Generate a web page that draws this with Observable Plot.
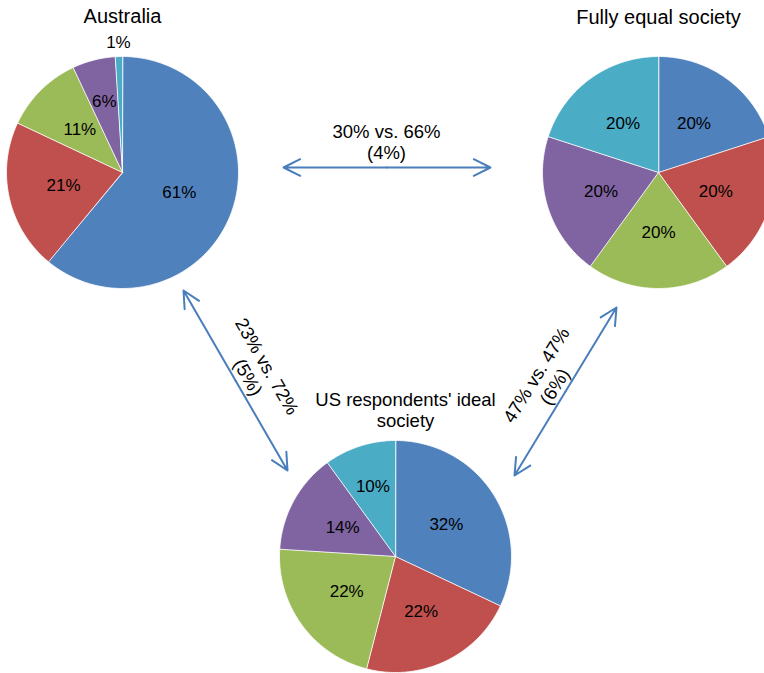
<!DOCTYPE html>
<html>
<head>
<meta charset="utf-8">
<script src="https://cdn.jsdelivr.net/npm/d3@7"></script>
<script src="https://cdn.jsdelivr.net/npm/@observablehq/plot@0.6"></script>
<style>
  html, body { margin: 0; padding: 0; background: #fff; overflow: hidden; }
  #chart svg { overflow: hidden; display: block; }
</style>
</head>
<body>
<div id="chart"></div>
<script>
// ---- data ----
const quintiles = ["Top 20%", "Second 20%", "Middle 20%", "Fourth 20%", "Bottom 20%"];
const australia = [61, 21, 11, 6, 1];
const fullyEqual = [20, 20, 20, 20, 20];
const usIdeal = [32, 22, 22, 14, 10];
const pieTitles = ["Australia", "Fully equal society", "US respondents' ideal\nsociety"];
const comparisonMain = ["30% vs. 66%", "23% vs. 72%", "47% vs. 47%"];
const comparisonSub = ["(4%)", "(5%)", "(6%)"];
const colors = ["#4F81BD", "#C0504D", "#9BBB59", "#8064A2", "#4BACC6"];

// ---- layout ----
const W = 764, H = 673, R = 116;
const FONT = "'Liberation Sans', Arial, Helvetica, sans-serif";
const pies = [
  {title: pieTitles[0], values: australia, cx: 122, cy: 172, tx: 122, ty: 16, ts: 20},
  {title: pieTitles[1], values: fullyEqual, cx: 658, cy: 172, tx: 658, ty: 17, ts: 20},
  {title: pieTitles[2], values: usIdeal, cx: 395, cy: 556, tx: 405, ty: 409, ts: 18.5}
];
const arrowsLayout = [
  {x1: 283, y1: 167, x2: 490, y2: 167, lx: 386, ly: 141, rot: 0},
  {x1: 183, y1: 290, x2: 287, y2: 470, lx: 257.5, ly: 371, rot: 60},
  {x1: 616, y1: 307, x2: 514, y2: 475, lx: 544.5, ly: 380, rot: -58}
];

// ---- derived geometry ----
const pieGen = d3.pie().sort(null);
const slicePts = [];
const sliceLabels = [];
pies.forEach((p, pi) => {
  const arcs = pieGen(p.values);
  arcs.forEach((a, si) => {
    const id = pi + "-" + si;
    const cat = quintiles[si];
    slicePts.push({id, cat, x: p.cx, y: p.cy});
    const n = Math.max(2, Math.ceil((a.endAngle - a.startAngle) / (Math.PI / 180)));
    for (let k = 0; k <= n; k++) {
      const t = a.startAngle + (a.endAngle - a.startAngle) * k / n;
      slicePts.push({id, cat, x: p.cx + R * Math.sin(t), y: p.cy - R * Math.cos(t)});
    }
    const mid = (a.startAngle + a.endAngle) / 2;
    const v = p.values[si];
    const lr = v < 3 ? R + 14 : v <= 10 ? R * 0.63 : R * 0.52;
    sliceLabels.push({x: p.cx + lr * Math.sin(mid), y: p.cy - lr * Math.cos(mid), text: v + "%"});
  });
});

const arrowHalves = [];
arrowsLayout.forEach(a => {
  const mx = (a.x1 + a.x2) / 2, my = (a.y1 + a.y2) / 2;
  arrowHalves.push({x1: mx, y1: my, x2: a.x1, y2: a.y1});
  arrowHalves.push({x1: mx, y1: my, x2: a.x2, y2: a.y2});
});
const arrowLabels = arrowsLayout.map((a, i) => ({x: a.lx, y: a.ly, rot: a.rot, text: comparisonMain[i] + "\n" + comparisonSub[i]}));

const chart = Plot.plot({
  width: W,
  height: H,
  margin: 0,
  x: {domain: [0, W], range: [0, W], axis: null},
  y: {domain: [0, H], range: [0, H], axis: null},
  color: {domain: quintiles, range: colors},
  style: {fontFamily: FONT, background: "#fff", overflow: "hidden"},
  marks: [
    Plot.line(slicePts, {x: "x", y: "y", z: "id", fill: "cat", stroke: "#fff", strokeWidth: 0.8, curve: "linear-closed"}),
    Plot.text(sliceLabels, {x: "x", y: "y", text: "text", fontSize: 17, fill: "#000"}),
    Plot.text(pies.filter(p => p.ts === 20), {x: "tx", y: "ty", text: "title", fontSize: 20, fill: "#000"}),
    Plot.text(pies.filter(p => p.ts !== 20), {x: "tx", y: "ty", text: "title", fontSize: 18.5, lineHeight: 1.14, fill: "#000"}),
    Plot.arrow(arrowHalves, {x1: "x1", y1: "y1", x2: "x2", y2: "y2", stroke: "#4A7EBB", strokeWidth: 2, headLength: 14, headAngle: 53}),
    Plot.text(arrowLabels, {x: "x", y: "y", text: "text", rotate: "rot", fontSize: 18.5, lineHeight: 1.18, fill: "#000"})
  ]
});
document.getElementById("chart").appendChild(chart);
</script>
</body>
</html>
